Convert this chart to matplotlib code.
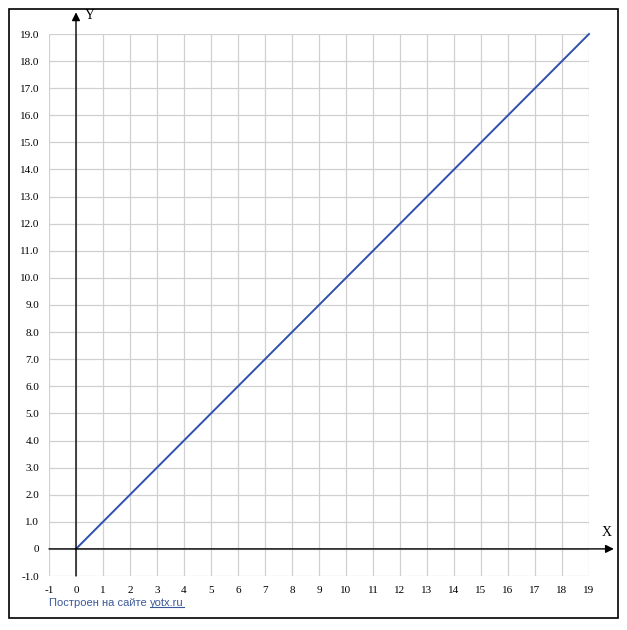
import matplotlib.pyplot as plt
import matplotlib.patches as patches

# data
line_x = [0, 19]
line_y = [0, 19]
x_ticks = list(range(-1, 20))
y_ticks = list(range(-1, 20))
y_labels = ["0" if v == 0 else f"{v:.1f}" for v in y_ticks]
footer = "Построен на сайте "
footer_link = "yotx.ru"

W, H = 627, 630
fig = plt.figure(figsize=(W / 100, H / 100), dpi=100)

# grid area in pixels: x 49..589, y 34..576
ax = fig.add_axes([49 / W, (H - 576) / H, 540 / W, 542 / H])
ax.set_xlim(-1, 19)
ax.set_ylim(-1, 19)
for s in ax.spines.values():
    s.set_visible(False)

ax.set_xticks(x_ticks)
ax.set_yticks(y_ticks)
ax.set_xticklabels([str(v) for v in x_ticks], fontsize=8, family="Liberation Serif")
ax.set_yticklabels(y_labels, fontsize=8, family="Liberation Serif")
ax.tick_params(length=0, pad=7)
ax.grid(True, color="#d0d0d0", linewidth=0.9)
ax.set_axisbelow(True)

# axes with arrows
arrow = dict(arrowstyle="-|>", color="black", lw=1, mutation_scale=12, shrinkA=0, shrinkB=0)
ax.annotate("", xy=(19.92, 0), xytext=(-1, 0), arrowprops=arrow, annotation_clip=False)
ax.annotate("", xy=(0, 19.8), xytext=(0, -1), arrowprops=arrow, annotation_clip=False)
ax.text(19.67, 0.6, "X", fontsize=10, family="Liberation Serif", ha="center", va="center")
ax.text(0.5, 19.67, "Y", fontsize=10, family="Liberation Serif", ha="center", va="center")

ax.plot(line_x, line_y, color="#2f4fb0", linewidth=1.4, clip_on=False)

# footer
t = fig.text(49 / W, 1 - 603 / H, footer, fontsize=8, color="#3b5998",
             family="Liberation Sans", va="center")
fig.canvas.draw()
bb = t.get_window_extent()
link = fig.text(bb.x1 / W, 1 - 603 / H, footer_link, fontsize=8, color="#3b5998",
                family="Liberation Sans", va="center")
fig.canvas.draw()
bb2 = link.get_window_extent()
fig.add_artist(plt.Line2D([bb2.x0 / W, bb2.x1 / W], [(bb2.y0 + 1) / H] * 2,
                          color="#3b5998", linewidth=0.8))

# outer border
fig.add_artist(patches.Rectangle((9 / W, (H - 618) / H), 609 / W, 609 / H,
                                 transform=fig.transFigure, fill=False,
                                 edgecolor="black", linewidth=1.2))

fig.savefig("out.png", dpi=100)
